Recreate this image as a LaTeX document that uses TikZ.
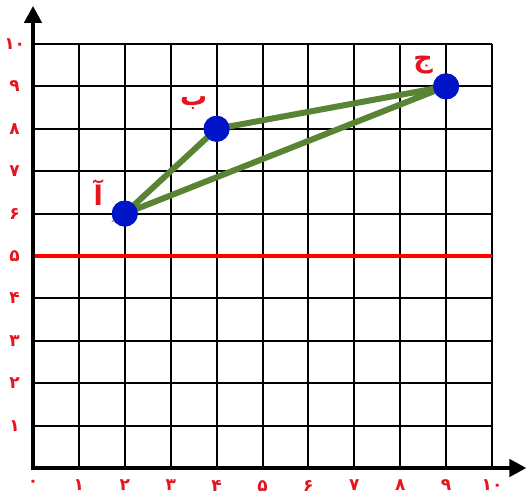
\documentclass[tikz,border=0pt]{standalone}
\usepackage{fontspec}
\newfontfamily\arabicfont[Script=Arabic]{DejaVu Sans}
\usetikzlibrary{arrows.meta}
\definecolor{ptblue}{RGB}{0,20,200}
\definecolor{seggreen}{RGB}{88,132,52}
\definecolor{labred}{RGB}{230,20,30}
\tikzset{
  gridline/.style={black, line width=2pt},
  axisline/.style={black, line width=4.5pt, -{Triangle[length=17pt,width=17pt]}},
  numlab/.style={text=labred, font=\arabicfont\bfseries\fontsize{17}{17}\selectfont, inner sep=0pt},
  ptlab/.style={text=labred, font=\arabicfont\bfseries\fontsize{27}{27}\selectfont, inner sep=0pt},
  dot/.style={circle, fill=ptblue, minimum size=26pt, inner sep=0pt},
  segment/.style={seggreen, line width=6pt, line cap=round},
  redline/.style={red, line width=4.5pt}
}
\begin{document}
\begin{tikzpicture}[x=45.9pt, y=42.4pt]
\useasboundingbox (-33pt,-31pt) rectangle ++(527pt,499pt);
% grid
\foreach \i in {1,...,10} {
  \draw[gridline] (\i,0) -- (\i,10);
  \draw[gridline] (0,\i) -- (10,\i);
}
% red line
\draw[redline] (0,5) -- (10,5);
% axes
\coordinate (O) at (0,0);
\coordinate (xend) at (10.75,0);
\coordinate (yend) at (0,10.9);
\draw[axisline] (-0.05,0) -- (xend);
\draw[axisline] (0,-0.05) -- (yend);
% tick labels
\foreach \n/\d in {0/۰,1/۱,2/۲,3/۳,4/۴,5/۵,6/۶,7/۷,8/۸,9/۹,10/۱۰} {
  \node[numlab, anchor=north] (xl\n) at (\n,-0.28) {\d};
}
\foreach \n/\d in {1/۱,2/۲,3/۳,4/۴,5/۵,6/۶,7/۷,8/۸,9/۹,10/۱۰} {
  \node[numlab] (yl\n) at (-0.4,\n) {\d};
}
% points
\node[dot] (A) at (2,6) {};
\node[dot] (B) at (4,8) {};
\node[dot] (C) at (9,9) {};
\draw[segment] (A.center) -- (B.center) -- (C.center) -- cycle;
\node[dot] at (A) {};
\node[dot] at (B) {};
\node[dot] at (C) {};
\node[ptlab] (la) at (1.42,6.5) {آ};
\node[ptlab] (lb) at (3.5,8.6) {ب};
\node[ptlab] (lc) at (8.5,9.5) {ج};
\end{tikzpicture}
\end{document}
